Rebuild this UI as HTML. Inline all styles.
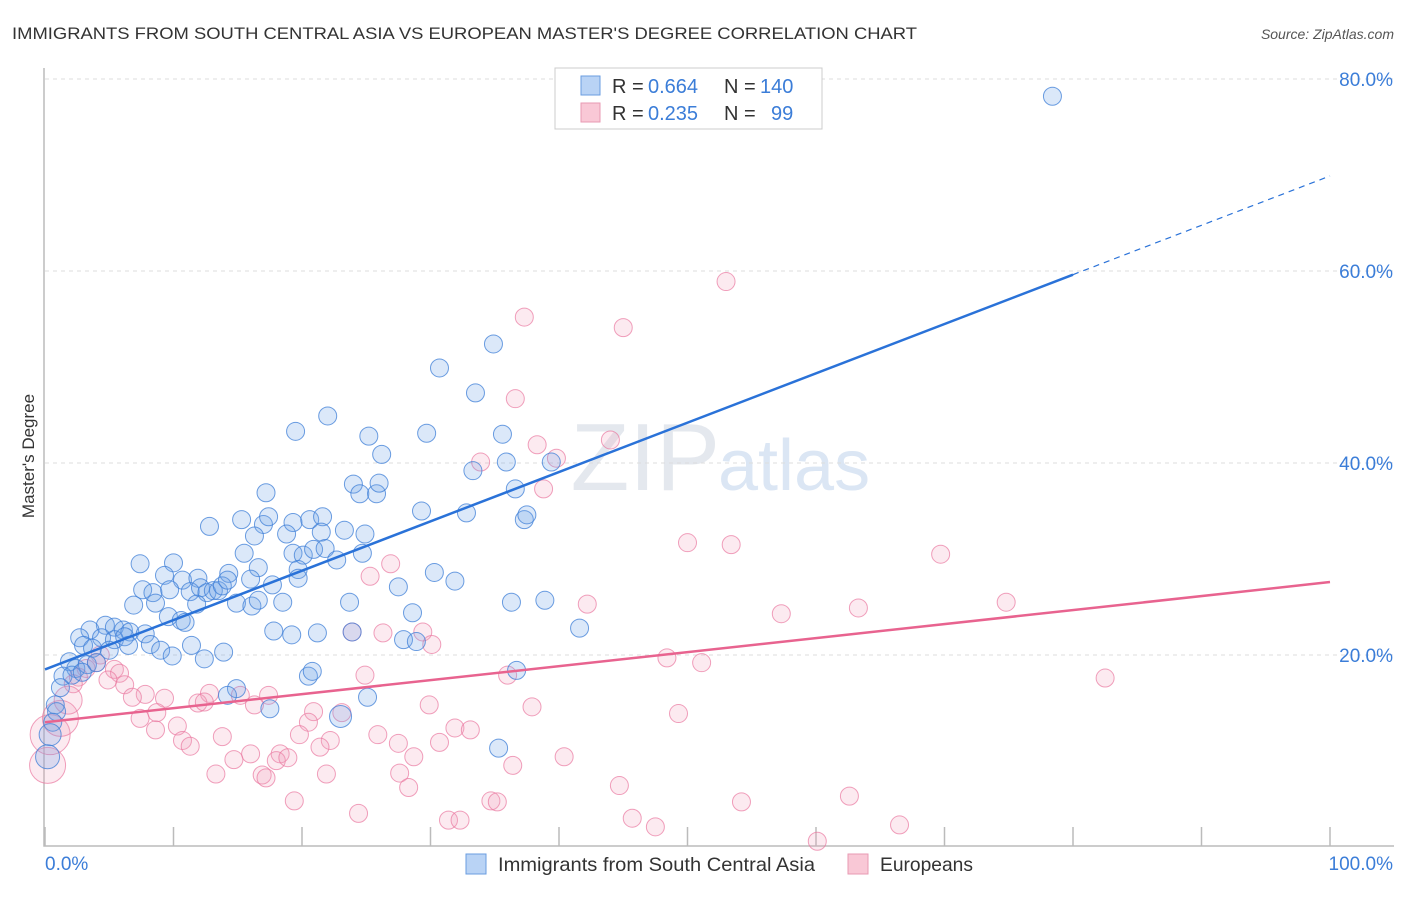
<!DOCTYPE html>
<html><head><meta charset="utf-8"><style>
body{margin:0;background:#fff;font-family:"Liberation Sans",sans-serif;}
svg text{font-family:"Liberation Sans",sans-serif;}
</style></head><body>
<svg id="c" width="1406" height="892">
<text x="12" y="39" font-size="17" fill="#333" textLength="905" lengthAdjust="spacingAndGlyphs">IMMIGRANTS FROM SOUTH CENTRAL ASIA VS EUROPEAN MASTER'S DEGREE CORRELATION CHART</text>
<text x="1394" y="39" font-size="14" fill="#555" font-style="italic" text-anchor="end">Source: ZipAtlas.com</text>
<text x="720" y="490" font-size="96" fill="#e4e8ee" text-anchor="end" font-family="Liberation Serif">ZIP</text>
<text x="718" y="490" font-size="72" fill="#dbe6f4">atlas</text>
<text transform="translate(34,456) rotate(-90)" font-size="17" fill="#333" text-anchor="middle">Master's Degree</text>
<g id="grid"></g><g id="pts"></g><g id="trend"></g>
<g>
<rect x="555" y="68" width="267" height="61" fill="#fff" stroke="#ccc"/>
<rect x="581" y="76" width="19" height="19" fill="#b9d3f5" stroke="#6a9de0"/>
<rect x="581" y="103" width="19" height="19" fill="#f9c8d6" stroke="#e89ab3"/>
<text x="612" y="93" font-size="20" fill="#333">R =</text>
<text x="648" y="93" font-size="20" fill="#3b7dd8">0.664</text>
<text x="724" y="93" font-size="20" fill="#333">N =</text>
<text x="760" y="93" font-size="20" fill="#3b7dd8">140</text>
<text x="612" y="120" font-size="20" fill="#333">R =</text>
<text x="648" y="120" font-size="20" fill="#3b7dd8">0.235</text>
<text x="724" y="120" font-size="20" fill="#333">N =</text>
<text x="771" y="120" font-size="20" fill="#3b7dd8">99</text>
</g>
<g>
<rect x="466" y="854" width="20" height="20" fill="#b9d3f5" stroke="#6a9de0"/>
<text x="498" y="871" font-size="19.5" fill="#333" textLength="317" lengthAdjust="spacingAndGlyphs">Immigrants from South Central Asia</text>
<rect x="848" y="854" width="20" height="20" fill="#f9c8d6" stroke="#e89ab3"/>
<text x="880" y="871" font-size="19.5" fill="#333" textLength="93" lengthAdjust="spacingAndGlyphs">Europeans</text>
</g>
</svg>
<script>
const yTicks=[20,40,60,80];
const yTickLabels=["20.0%","40.0%","60.0%","80.0%"];
const xTicks=[0,10,20,30,40,50,60,70,80,90,100];
const blueX=[78.4,34.9,30.7,33.5,22.0,19.5,25.2,29.7,35.6,26.2,33.3,35.9,39.4,17.2,24.0,24.5,25.8,26.0,36.6,29.3,32.8,37.3,37.5,12.8,15.3,17.0,17.4,19.3,20.6,21.6,21.5,18.8,16.3,23.3,24.9,7.4,10.0,15.5,19.3,20.1,20.9,21.8,22.7,24.7,9.3,10.7,11.9,14.3,16.6,19.7,19.7,16.0,17.7,27.5,30.3,31.9,7.6,8.4,9.7,11.3,12.1,12.6,13.1,13.5,13.8,14.2,6.9,8.6,11.8,14.9,16.1,16.6,18.5,23.7,36.3,38.9,28.6,9.6,10.6,10.9,4.7,5.4,6.1,6.6,3.5,4.4,5.4,6.2,7.8,17.8,19.2,21.2,23.9,27.9,28.9,41.6,2.7,3.0,3.7,5.0,6.5,8.2,9.0,11.4,13.9,9.9,12.4,1.9,2.4,3.3,4.0,1.4,2.1,2.9,20.5,20.8,36.7,1.2,14.9,14.2,25.1,17.5,0.8,0.9,23.0,0.6,0.4,35.3,0.2];
const blueY=[78.2,52.4,49.9,47.3,44.9,43.3,42.8,43.1,43.0,40.9,39.2,40.1,40.1,36.9,37.8,36.8,36.8,37.9,37.3,35.0,34.8,34.1,34.6,33.4,34.1,33.6,34.4,33.8,34.1,34.4,32.8,32.6,32.4,33.0,32.6,29.5,29.6,30.6,30.6,30.4,31.0,31.1,29.9,30.6,28.3,27.8,28.0,28.5,29.1,28.9,28.0,27.9,27.3,27.1,28.6,27.7,26.8,26.5,26.8,26.6,27.0,26.5,26.7,26.7,27.2,27.8,25.2,25.4,25.3,25.4,25.1,25.7,25.5,25.5,25.5,25.7,24.4,24.0,23.6,23.4,23.1,22.9,22.6,22.4,22.6,21.8,21.6,21.9,22.2,22.5,22.1,22.3,22.4,21.6,21.4,22.8,21.8,21.0,20.7,20.5,21.0,21.1,20.5,21.0,20.3,19.9,19.6,19.3,18.6,19.0,19.2,17.8,17.9,18.2,17.8,18.3,18.4,16.6,16.5,15.8,15.6,14.4,14.8,14.1,13.6,13.0,11.7,10.3,9.4];
const blueR=[9,9,9,9,9,9,9,9,9,9,9,9,9,9,9,9,9,9,9,9,9,9,9,9,9,9,9,9,9,9,9,9,9,9,9,9,9,9,9,9,9,9,9,9,9,9,9,9,9,9,9,9,9,9,9,9,9,9,9,9,9,9,9,9,9,9,9,9,9,9,9,9,9,9,9,9,9,9,9,9,9,9,9,9,9,9,9,9,9,9,9,9,9,9,9,9,9,9,9,9,9,9,9,9,9,9,9,9,9,9,9,9,9,9,9,9,9,9,9,9,9,9,9,9,11,9,11,9,12,9,15];
const pinkX=[53.0,37.3,45.0,36.6,44.0,38.3,39.8,33.9,38.8,50.0,53.4,69.7,26.9,25.3,42.2,74.8,63.3,57.3,29.4,30.1,26.3,23.9,48.4,51.1,82.5,36.0,24.9,4.3,4.0,3.2,5.4,5.8,2.6,4.9,6.2,2.2,7.8,6.8,9.3,12.8,15.2,17.4,11.9,12.4,16.3,20.9,23.1,29.9,37.9,8.7,7.4,20.5,49.3,10.3,8.6,31.9,33.1,25.9,19.8,22.2,10.7,11.3,27.5,30.7,21.4,13.8,16.0,18.3,18.0,18.9,14.7,28.7,40.4,36.4,13.3,16.9,17.2,21.9,27.6,28.3,44.7,19.4,34.7,35.2,54.2,62.6,24.4,31.4,32.3,45.7,47.5,66.5,60.1,0.2,0.4,1.2,1.8];
const pinkY=[58.9,55.2,54.1,46.7,42.4,41.9,40.5,40.1,37.3,31.7,31.5,30.5,29.5,28.2,25.3,25.5,24.9,24.3,22.4,21.1,22.3,22.4,19.7,19.2,17.6,17.9,17.9,20.0,19.2,18.6,18.5,18.1,17.7,17.4,16.9,17.0,15.9,15.6,15.5,16.0,15.8,15.8,15.0,15.1,14.8,14.1,14.0,14.8,14.6,14.0,13.4,13.0,13.9,12.6,12.2,12.4,12.2,11.7,11.7,11.1,11.1,10.5,10.8,10.9,10.4,11.5,9.7,9.7,9.0,9.3,9.1,9.4,9.4,8.5,7.6,7.5,7.2,7.6,7.7,6.2,6.4,4.8,4.8,4.7,4.7,5.3,3.5,2.8,2.8,3.0,2.1,2.3,0.6,8.5,11.7,13.4,15.3];
const pinkR=[9,9,9,9,9,9,9,9,9,9,9,9,9,9,9,9,9,9,9,9,9,9,9,9,9,9,9,9,9,9,9,9,9,9,9,9,9,9,9,9,9,9,9,9,9,9,9,9,9,9,9,9,9,9,9,9,9,9,9,9,9,9,9,9,9,9,9,9,9,9,9,9,9,9,9,9,9,9,9,9,9,9,9,9,9,9,9,9,9,9,9,9,9,18,20,18,14];
const blueTrend=[18.5,69.9]; // y at x=0 and x=100
const blueSolidEnd=80;
const pinkTrend=[13.0,27.6];
const NS="http://www.w3.org/2000/svg";
const X=v=>45+v*12.85, Y=v=>847-v*9.6;
function mk(tag,at,parent){const e=document.createElementNS(NS,tag);for(const k in at)e.setAttribute(k,at[k]);parent.appendChild(e);return e;}
const grid=document.getElementById('grid');
yTicks.forEach((t,i)=>{
 const l=mk('line',{x1:45,x2:1394,y1:Y(t),y2:Y(t),stroke:'#ddd','stroke-dasharray':'4,4'},grid);
 
 
 const tx=mk('text',{x:1393,y:Y(t)+7,'font-size':19,fill:'#3b7dd8','text-anchor':'end'},grid);
 tx.textContent=yTickLabels[i];
 
 
});
const ax=mk('path',{d:`M44,68 V846 H1394`,stroke:'#bbb',fill:'none','stroke-width':1.5},grid);


xTicks.forEach(t=>{const l=mk('line',{x1:X(t),x2:X(t),y1:827,y2:846,stroke:'#bbb','stroke-width':1.5},grid);
 
 });
const x0=mk('text',{x:45,y:870,'font-size':19,fill:'#3b7dd8'},grid);x0.textContent='0.0%';


const x1=mk('text',{x:1393,y:870,'font-size':19,fill:'#3b7dd8','text-anchor':'end'},grid);x1.textContent='100.0%';


const pts=document.getElementById('pts');
pinkX.forEach((v,i)=>{const c=mk('circle',{cx:X(v),cy:Y(pinkY[i]),r:pinkR[i],fill:'rgba(243,160,188,0.22)',stroke:'rgba(233,120,160,0.7)','stroke-width':1},pts);
 
 });
blueX.forEach((v,i)=>{const c=mk('circle',{cx:X(v),cy:Y(blueY[i]),r:blueR[i],fill:'rgba(110,165,232,0.25)',stroke:'rgba(60,125,215,0.75)','stroke-width':1},pts);
 
 });
const tr=document.getElementById('trend');
const bAt=x=>blueTrend[0]+(blueTrend[1]-blueTrend[0])*x/100;
const b1=mk('line',{x1:X(0),y1:Y(bAt(0)),x2:X(blueSolidEnd),y2:Y(bAt(blueSolidEnd)),stroke:'#2a72d8','stroke-width':2.5},tr);


const b2=mk('line',{x1:X(blueSolidEnd),y1:Y(bAt(blueSolidEnd)),x2:X(100),y2:Y(bAt(100)),stroke:'#2a72d8','stroke-width':1.2,'stroke-dasharray':'6,5'},tr);


const p1=mk('line',{x1:X(0),y1:Y(pinkTrend[0]),x2:X(100),y2:Y(pinkTrend[1]),stroke:'#e8638f','stroke-width':2.5},tr);


</script>
</body></html>
